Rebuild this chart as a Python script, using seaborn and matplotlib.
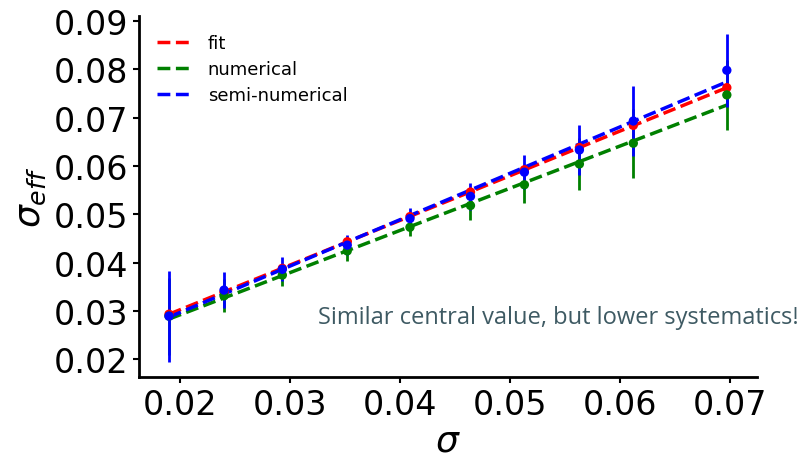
import matplotlib
matplotlib.use("Agg")
import matplotlib.pyplot as plt
import seaborn as sns

# values
sigma = [0.019, 0.024, 0.0293, 0.0352, 0.0409, 0.0464, 0.0513, 0.0563, 0.0612, 0.0697]
fit = [0.0293, 0.0339, 0.0388, 0.0443, 0.0495, 0.0546, 0.0592, 0.0638, 0.0684, 0.0762]
numerical = [0.0289, 0.0331, 0.0374, 0.0424, 0.0473, 0.0518, 0.0561, 0.0604, 0.0647, 0.0747]
numerical_err = [0.0080, 0.0034, 0.0022, 0.0021, 0.0019, 0.0030, 0.0038, 0.0054, 0.0071, 0.0073]
semi = [0.0289, 0.0343, 0.0386, 0.0436, 0.0491, 0.0537, 0.0587, 0.0633, 0.0693, 0.0798]
semi_err = [0.0094, 0.0037, 0.0025, 0.0021, 0.0022, 0.0028, 0.0035, 0.0051, 0.0073, 0.0075]

# linear trends (dashed), end points at first / last sigma
line_x = [sigma[0], sigma[-1]]
fit_line = [0.0293, 0.0762]
numerical_line = [0.0283, 0.0726]
semi_line = [0.0287, 0.0774]

sns.set_theme(style="ticks")
plt.rcParams["font.family"] = ["DejaVu Sans"]

fig = plt.figure(figsize=(8.08, 4.64), dpi=100)
ax = fig.add_axes([0.172, 0.185, 0.765, 0.778])

lw = 2.5
sns.lineplot(x=line_x, y=fit_line, ax=ax, color="red", linestyle="--", lw=lw, label="fit")
sns.lineplot(x=line_x, y=numerical_line, ax=ax, color="green", linestyle="--", lw=lw, label="numerical")
sns.lineplot(x=line_x, y=semi_line, ax=ax, color="blue", linestyle="--", lw=lw, label="semi-numerical")

ax.errorbar(sigma, numerical, yerr=numerical_err, fmt="none", ecolor="green", elinewidth=2)
ax.errorbar(sigma, semi, yerr=semi_err, fmt="none", ecolor="blue", elinewidth=2)
sns.scatterplot(x=sigma, y=fit, ax=ax, color="red", s=45, edgecolor="none", zorder=3)
sns.scatterplot(x=sigma, y=numerical, ax=ax, color="green", s=45, edgecolor="none", zorder=3)
sns.scatterplot(x=sigma, y=semi, ax=ax, color="blue", s=45, edgecolor="none", zorder=3)

ax.set_xlim(0.01627, 0.07245)
ax.set_ylim(0.01627, 0.091)
ax.set_xticks([0.02, 0.03, 0.04, 0.05, 0.06, 0.07])
ax.set_yticks([0.02, 0.03, 0.04, 0.05, 0.06, 0.07, 0.08, 0.09])
ax.tick_params(labelsize=24, width=1.5, length=4, color="black", labelcolor="black")
for s in ["left", "bottom"]:
    ax.spines[s].set_linewidth(2)
    ax.spines[s].set_color("black")
sns.despine(ax=ax)

ax.set_xlabel(r"$\sigma$", fontsize=26, color="black", labelpad=2)
ax.set_ylabel(r"$\sigma_{eff}$", fontsize=26, color="black", labelpad=4)

ax.legend(loc="upper left", frameon=False, fontsize=13, labelspacing=0.45,
          handlelength=2.0, borderaxespad=0.6, labelcolor="black")

fig.text(318 / 808, 1 - 318 / 464, "Similar central value, but lower systematics!",
         fontsize=17, color="#3e5a63", va="center", ha="left", family=["Open Sans"])

fig.savefig("out.png", dpi=100)
